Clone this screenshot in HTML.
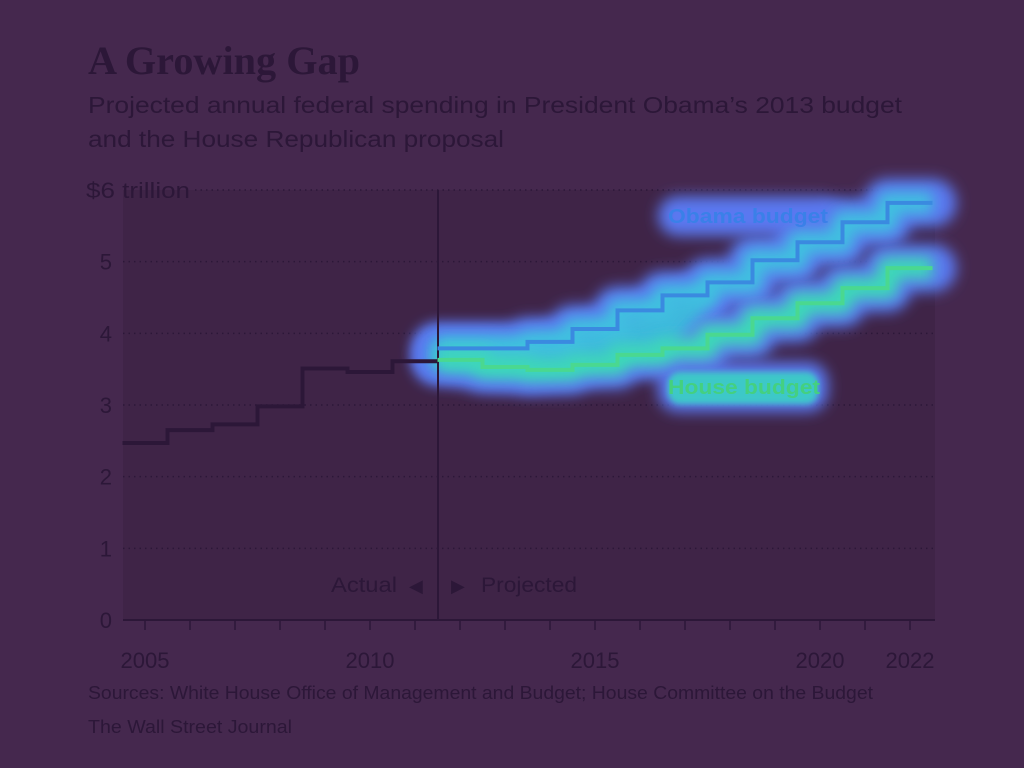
<!DOCTYPE html>
<html><head><meta charset="utf-8"><style>
html,body{margin:0;padding:0;width:1024px;height:768px;background:#45284e;overflow:hidden}
svg{display:block}
</style></head><body>
<svg width="1024" height="768" id="chart">
<defs>
<filter id="blur1" x="-20%" y="-50%" width="140%" height="200%"><feGaussianBlur stdDeviation="7"/></filter>
<filter id="blur2" x="-20%" y="-50%" width="140%" height="200%"><feGaussianBlur stdDeviation="3"/></filter>
</defs>
<rect x="0" y="0" width="1024" height="768" fill="#45284e"/>
<text x="88" y="74" textLength="272" lengthAdjust="spacingAndGlyphs" font-family="'Liberation Serif',serif" font-weight="bold" font-size="40" fill="#2c1738">A Growing Gap</text>
<text x="88" y="113" textLength="814" lengthAdjust="spacingAndGlyphs" font-family="'Liberation Sans',sans-serif" font-size="23" fill="#2c1738">Projected annual federal spending in President Obama’s 2013 budget</text>
<text x="88" y="147" textLength="416" lengthAdjust="spacingAndGlyphs" font-family="'Liberation Sans',sans-serif" font-size="23" fill="#2c1738">and the House Republican proposal</text>
<rect x="123" y="190" width="812" height="430" fill="#3f2447"/>
<g id="grid"></g>
<g id="heat"></g>
<g id="lines"></g>
<g id="axis"></g>
<text x="331" y="592" textLength="66" lengthAdjust="spacingAndGlyphs" font-family="'Liberation Sans',sans-serif" font-size="21" fill="#2c1738">Actual</text>
<text x="409" y="592" font-family="'Liberation Sans',sans-serif" font-size="18" fill="#2c1738">◀</text>
<text x="451" y="592" font-family="'Liberation Sans',sans-serif" font-size="18" fill="#2c1738">▶</text>
<text x="481" y="592" textLength="96" lengthAdjust="spacingAndGlyphs" font-family="'Liberation Sans',sans-serif" font-size="21" fill="#2c1738">Projected</text>
<text x="88" y="699" textLength="785" lengthAdjust="spacingAndGlyphs" font-family="'Liberation Sans',sans-serif" font-size="18" fill="#2c1738">Sources: White House Office of Management and Budget; House Committee on the Budget</text>
<text x="88" y="733" textLength="204" lengthAdjust="spacingAndGlyphs" font-family="'Liberation Sans',sans-serif" font-size="18" fill="#2c1738">The Wall Street Journal</text>
</svg>
<script>
const actualYears=[2005,2006,2007,2008,2009,2010,2011];
const actualVals=[2.47,2.65,2.73,2.98,3.51,3.46,3.61];
const projYears=[2012,2013,2014,2015,2016,2017,2018,2019,2020,2021,2022];
const obamaVals=[3.79,3.79,3.88,4.06,4.32,4.53,4.71,5.02,5.27,5.55,5.82];
const houseVals=[3.63,3.53,3.49,3.56,3.70,3.79,3.98,4.21,4.42,4.63,4.91];
const yTicks=[0,1,2,3,4,5,6];
const xLabels=[2005,2010,2015,2020,2022];
const NS='http://www.w3.org/2000/svg';
const X=y=>145+45*(y-2005);
const Y=v=>620-v*71.67;
function mk(tag,attrs,parent){const e=document.createElementNS(NS,tag);for(const k in attrs)e.setAttribute(k,attrs[k]);parent.appendChild(e);return e;}
function stepPath(years,vals){let d='';years.forEach((yr,i)=>{const x0=X(yr)-22.5,x1=X(yr)+22.5,y=Y(vals[i]);d+=(i?'L':'M')+x0+','+y+'L'+x1+','+y;});return d;}
const grid=document.getElementById('grid'),axis=document.getElementById('axis'),heat=document.getElementById('heat'),lines=document.getElementById('lines');
yTicks.forEach(t=>{
  if(t>0){const l=mk('line',{x1:t==6?195:123,x2:935,y1:Y(t),y2:Y(t),stroke:'#2c1738','stroke-width':1.5,'stroke-dasharray':'1.5,4'},grid);
  
  }
  const attrs={x:t==6?86:112,y:Y(t)+8,'text-anchor':t==6?'start':'end','font-family':"'Liberation Sans',sans-serif",'font-size':22,fill:'#2c1738'};
  if(t==6){attrs.textLength=104;attrs.lengthAdjust='spacingAndGlyphs';}
  const tx=mk('text',attrs,axis);
  tx.textContent=t==6?'$6 trillion':String(t);
  
  
});
const base=mk('line',{x1:123,x2:935,y1:620,y2:620,stroke:'#2c1738','stroke-width':2},axis);


for(let yr=2005;yr<=2022;yr++){const tk=mk('line',{x1:X(yr),x2:X(yr),y1:620,y2:630,stroke:'#2c1738','stroke-width':1.5},axis);

}
xLabels.forEach(yr=>{const t=mk('text',{x:X(yr),y:668,'text-anchor':'middle','font-family':"'Liberation Sans',sans-serif",'font-size':22,fill:'#2c1738'},axis);t.textContent=yr;

});
const div=mk('line',{x1:438,x2:438,y1:190,y2:620,stroke:'#2c1738','stroke-width':2},lines);


const op=stepPath(projYears,obamaVals),hp=stepPath(projYears,houseVals);
// fill between lines for first years (glow merges)
let band='M'+(X(projYears[0])-22.5)+','+Y(obamaVals[0]);
for(let i=0;i<6;i++){band+='L'+(X(projYears[i])+22.5)+','+Y(obamaVals[i]);}
for(let i=5;i>=0;i--){band+='L'+(X(projYears[i])-22.5)+','+Y(houseVals[i]);}
band+='Z';
mk('path',{d:band,fill:'#5a78f0',stroke:'#5a78f0','stroke-width':44,'stroke-linejoin':'round',filter:'url(#blur1)'},heat);
[op,hp].forEach(d=>mk('path',{d:d,fill:'none',stroke:'#5a78f0','stroke-width':48,'stroke-linejoin':'round','stroke-linecap':'round',filter:'url(#blur1)'},heat));
mk('rect',{x:658,y:196,width:184,height:40,rx:20,fill:'#5a78f0',filter:'url(#blur1)'},heat);
mk('rect',{x:658,y:362,width:170,height:50,rx:20,fill:'#5a78f0',filter:'url(#blur1)'},heat);
mk('path',{d:band,fill:'#3cb8dc',stroke:'#3cb8dc','stroke-width':16,'stroke-linejoin':'round',filter:'url(#blur1)'},heat);
mk('path',{d:op,fill:'none',stroke:'#3fc0e0','stroke-width':22,'stroke-linejoin':'round',filter:'url(#blur1)'},heat);
mk('path',{d:hp,fill:'none',stroke:'#3ed8b8','stroke-width':22,'stroke-linejoin':'round',filter:'url(#blur1)'},heat);
mk('rect',{x:668,y:372,width:150,height:32,rx:12,fill:'#3ec8c8',filter:'url(#blur2)'},heat);
const ob=mk('path',{d:op,fill:'none',stroke:'#3a8ae0','stroke-width':4},lines);


const ho=mk('path',{d:hp,fill:'none',stroke:'#4ad890','stroke-width':4},lines);


const ac=mk('path',{d:stepPath(actualYears,actualVals),fill:'none',stroke:'#2c1738','stroke-width':4},lines);


const l1=mk('text',{x:668,y:223,textLength:160,lengthAdjust:'spacingAndGlyphs','font-family':"'Liberation Sans',sans-serif",'font-weight':'bold','font-size':20,fill:'#3a80e8'},lines);l1.textContent='Obama budget';


const l2=mk('text',{x:668,y:394,textLength:152,lengthAdjust:'spacingAndGlyphs','font-family':"'Liberation Sans',sans-serif",'font-weight':'bold','font-size':20,fill:'#44d080'},lines);l2.textContent='House budget';


</script>
</body></html>
